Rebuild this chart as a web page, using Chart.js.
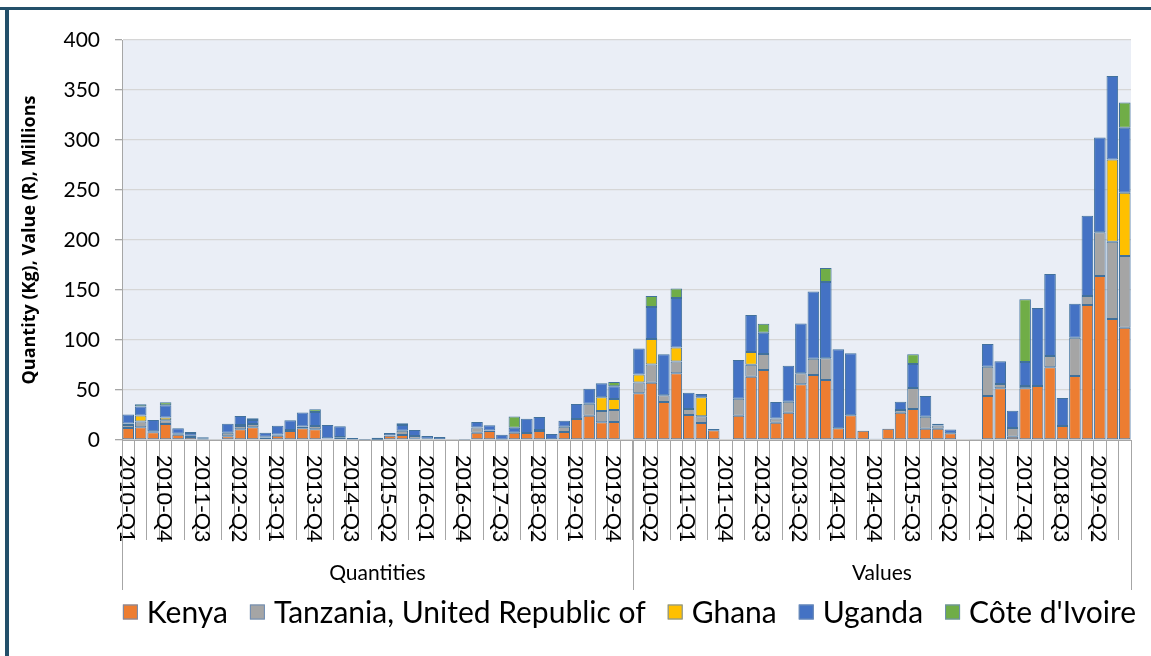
<!DOCTYPE html>
<html><head><meta charset="utf-8">
<script src="https://cdn.jsdelivr.net/npm/chart.js@4.4.1/dist/chart.umd.min.js"></script>
<style>html,body{margin:0;padding:0;background:#fff;overflow:hidden}#wrap{width:1151px;height:656px;position:relative}</style>
</head><body><div id="wrap"><canvas id="c" width="1151" height="656"></canvas></div>
<script>
const quarters = ['2010-Q1','2010-Q2','2010-Q3','2010-Q4','2011-Q1','2011-Q2','2011-Q3','2011-Q4',
  '2012-Q1','2012-Q2','2012-Q3','2012-Q4','2013-Q1','2013-Q2','2013-Q3','2013-Q4',
  '2014-Q1','2014-Q2','2014-Q3','2014-Q4','2015-Q1','2015-Q2','2015-Q3','2015-Q4',
  '2016-Q1','2016-Q2','2016-Q3','2016-Q4','2017-Q1','2017-Q2','2017-Q3','2017-Q4',
  '2018-Q1','2018-Q2','2018-Q3','2018-Q4','2019-Q1','2019-Q2','2019-Q3','2019-Q4'];
const quantityLabels = quarters.concat(['']);
const valueLabels = quarters.slice();
const groupNames = ['Quantities', 'Values'];
const groupSizes = [quantityLabels.length, valueLabels.length];
const yTicks = [0, 50, 100, 150, 200, 250, 300, 350, 400];
const yTitle = 'Quantity (Kg), Value (R), Millions';
const seriesNames = ['Kenya', 'Tanzania, United Republic of', 'Ghana', 'Uganda', "Côte d'Ivoire"];
const seriesColors = ['#ED7D31', '#A5A5A5', '#FFC000', '#4472C4', '#70AD47'];

const _ = null;
const kenyaQty = [12,12.7,7.7,16,5.3,3,0.5,_,3.7,10.7, 12.7,2.5,4.3,9,11.7,10.7,1.3,2.3,0.5,0.3, 0.3,4.3,5,1.3,1.3,_,_,0.5,7.3,9, 0.5,7.3,7,9,0.7,8,21,24.3,17.7,18,_];
const tanzaniaQty = [3,5.7,1,3.7,1,1.3,0.7,_,3.5,3.3, 3.3,0.8,1.3,1,1.7,3.3,0.5,0.7,_,0.4, _,0.5,4.3,2.7,_,_,0.5,_,5.3,0.4, _,_,_,1,_,5.3,_,12,11.3,12,_];
const ghanaQty = [1.5,6,_,2.7,_,_,_,_,_,1, _,_,_,_,_,_,_,_,_,_, _,_,_,_,_,_,_,_,_,_, _,_,_,_,_,_,_,_,13.7,11,_];
const ugandaQty = [9,9,11.3,12.3,5.4,2.7,1.5,1,9,9, 4,4,8.7,9.7,14,14,13.2,10.7,1.5,_, 2,2.3,5.7,6,2.7,3,_,0.5,5.3,5.4, 4.8,5,14.3,13,5.3,6,15,15,14,12.7,_];
const coteQty = [_,2.3,_,3,_,1,_,_,_,_, 1.7,_,_,_,_,2.7,_,_,_,_, _,_,1.7,_,_,_,_,_,_,_, _,11.3,_,_,_,_,_,_,_,4.3,_];

const kenyaVal = [46.7,57.3,38,66.7,25,17,9.7,_,24.3,63.3, 70,17.3,27.3,55.7,65,60,11.7,24.7,9.3,_, 11.3,27.3,31,11.3,11.3,6.7,_,_,44,51.7, 3.3,51.7,54,72.7,14,64,135,164,121,112.3];
const tanzaniaVal = [10.7,18.3,6.7,11.7,6,6.7,_,0.7,17,12, 16,4.3,11,11,16.3,21.7,_,_,_,1, _,2.7,21,12,3.3,_,_,1,29.3,4.3, 8.7,2.3,_,11.3,_,38.3,9,43.7,77.3,71.7];
const ghanaVal = [8,25.3,_,14,_,19,_,_,_,12.7, _,_,_,_,_,_,_,_,_,_, _,_,_,_,_,_,_,_,_,_, _,_,_,_,_,_,_,_,82.3,63.3];
const ugandaVal = [26,32,41,49.7,16.3,3.3,1.3,_,38.7,37, 21.3,16.3,36,49.7,67.3,76.3,79,62,_,0.3, _,8.3,24,20.7,1.7,3.7,_,_,22.7,22.7, 17.3,24,78,82,28,34,80.3,94.7,83.3,65];
const coteVal = [_,11,_,9.3,_,_,_,_,_,_, 9,_,_,_,_,14,_,_,_,_, _,_,9.7,_,_,_,_,_,_,_, _,62.7,_,_,_,_,_,_,_,25.3];

const labels = quantityLabels.concat(valueLabels);
const seriesData = [
  kenyaQty.concat(kenyaVal),
  tanzaniaQty.concat(tanzaniaVal),
  ghanaQty.concat(ghanaVal),
  ugandaQty.concat(ugandaVal),
  coteQty.concat(coteVal)
];

const FONT = 'Lato, "Open Sans", sans-serif';

const decor = {
  id: 'decor',
  beforeDraw(chart) {
    const {ctx, chartArea: a} = chart;
    ctx.save();
    ctx.fillStyle = '#EAEEF6';
    ctx.fillRect(a.left, a.top, a.right - a.left, a.bottom - a.top);
    ctx.restore();
  },
  afterDraw(chart) {
    const {ctx, chartArea: a, scales: {x}} = chart;
    ctx.save();
    // rotated category labels (top-to-bottom)
    ctx.font = '21.5px ' + FONT;
    ctx.fillStyle = '#000';
    ctx.textAlign = 'left';
    ctx.textBaseline = 'middle';
    labels.forEach((lab, i) => {
      if (i % 3 !== 0 || !lab) return;
      const px = x.getPixelForValue(i);
      ctx.save();
      ctx.translate(px - 1.5, a.bottom + 15);
      ctx.rotate(Math.PI / 2);
      ctx.fillText(lab, 0, 0);
      ctx.restore();
    });
    // group separators and names
    ctx.strokeStyle = '#A6A6A6';
    ctx.lineWidth = 1;
    let start = 0;
    const bounds = [];
    groupSizes.forEach(n => { bounds.push([start, start + n]); start += n; });
    const edges = [0];
    bounds.forEach(b => edges.push(b[1]));
    edges.forEach(e => {
      const px = Math.round(x.getPixelForValue(e - 0.5)) + 0.5;
      ctx.beginPath(); ctx.moveTo(px, a.bottom); ctx.lineTo(px, a.bottom + 150); ctx.stroke();
    });
    ctx.font = '21px ' + FONT;
    ctx.textAlign = 'center';
    bounds.forEach((b, g) => {
      const l = x.getPixelForValue(b[0] - 0.5), r = x.getPixelForValue(b[1] - 0.5);
      ctx.fillText(groupNames[g], (l + r) / 2, a.bottom + 133);
    });
    // legend
    ctx.font = '30px ' + FONT;
    ctx.textAlign = 'left';
    const box = 15, gapText = 9, gapItem = 22;
    const widths = seriesNames.map(n => ctx.measureText(n).width);
    const total = widths.reduce((s, w) => s + box + gapText + w, 0) + gapItem * (seriesNames.length - 1);
    let lx = (a.left + a.right) / 2 - total / 2 + 3;
    const ly = 612;
    seriesNames.forEach((n, i) => {
      ctx.fillStyle = seriesColors[i];
      ctx.fillRect(lx, ly - box / 2, box, box);
      ctx.strokeStyle = '#6E8DB5';
      ctx.lineWidth = 1;
      ctx.strokeRect(lx + 0.5, ly - box / 2 + 0.5, box - 1, box - 1);
      ctx.fillStyle = '#000';
      ctx.fillText(n, lx + box + gapText, ly + 1);
      lx += box + gapText + widths[i] + gapItem;
    });
    // frame
    ctx.fillStyle = '#23506A';
    ctx.fillRect(0, 7, chart.width, 3);
    ctx.fillRect(5, 7, 4, chart.height - 7);
    ctx.restore();
  }
};

new Chart(document.getElementById('c'), {
  type: 'bar',
  data: {
    labels: labels,
    datasets: seriesNames.map((n, i) => ({
      label: n,
      data: seriesData[i],
      backgroundColor: seriesColors[i],
      borderColor: '#41719C',
      borderWidth: 1,
      borderSkipped: false,
      barPercentage: 0.93,
      categoryPercentage: 1.0
    }))
  },
  options: {
    responsive: false,
    animation: false,
    layout: {padding: {left: 0, right: 20, top: 40, bottom: 0}},
    plugins: {legend: {display: false}, tooltip: {enabled: false}},
    scales: {
      x: {
        stacked: true,
        offset: true,
        grid: {offset: true, drawOnChartArea: false, drawTicks: true, tickLength: 100, tickColor: '#A6A6A6', lineWidth: 1},
        border: {display: true, color: '#A6A6A6'},
        ticks: {display: false, autoSkip: false},
        afterFit(s) { s.height = 216; }
      },
      y: {
        stacked: true,
        min: yTicks[0],
        max: yTicks[yTicks.length - 1],
        afterBuildTicks(s) { s.ticks = yTicks.map(v => ({value: v})); },
        ticks: {font: {family: FONT, size: 21}, color: '#000', padding: 15},
        grid: {color: '#D6D6D6', tickColor: '#A6A6A6', tickLength: 7, lineWidth: 1.3},
        border: {display: true, color: '#A6A6A6'},
        title: {display: true, text: yTitle, font: {family: '"Open Sans", Lato, sans-serif', size: 18, weight: 'bold'}, color: '#000', padding: {top: 19, bottom: 0}},
        afterFit(s) { s.width = 122; }
      }
    }
  },
  plugins: [decor]
});
</script>
</body></html>
